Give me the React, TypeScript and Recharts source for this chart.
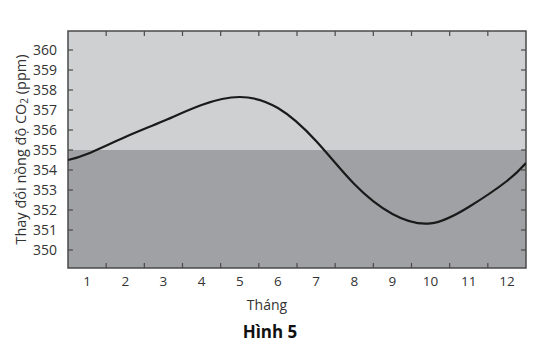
import { LineChart, Line, XAxis, YAxis, CartesianGrid, ReferenceArea, ReferenceLine } from "recharts";

// month positions (0.5 and 12.5 are the plot edges) and CO2 readings
const months = [0.5, 1, 2, 3, 4, 5, 6, 7, 8, 9, 10, 11, 12, 12.5];
const co2 = [354.5, 354.8, 355.65, 356.45, 357.25, 357.65, 357.1, 355.45, 353.3, 351.8, 351.33, 352.15, 353.45, 354.35];

const monthTicks = [1, 2, 3, 4, 5, 6, 7, 8, 9, 10, 11, 12];
const monthEdges = [1.5, 2.5, 3.5, 4.5, 5.5, 6.5, 7.5, 8.5, 9.5, 10.5, 11.5];
const ppmTicks = [350, 351, 352, 353, 354, 355, 356, 357, 358, 359, 360];
const threshold = 355;
const xDomain = [0.5, 12.5];
const yDomain = [349.1, 360.95];

const data = months.map((m, i) => ({ month: m, co2: co2[i] }));

const FONT = "'Open Sans', 'DejaVu Sans', sans-serif";
const INK = "#4a4a4a";
// inward tick length, in axis units (~5px)
const TX = 0.13;
const TY = 0.25;

function YTitle({ viewBox }: any) {
  const cx = 20;
  const cy = viewBox ? viewBox.y + viewBox.height / 2 : 150;
  return (
    <text
      x={cx}
      y={cy}
      transform={`rotate(-90 ${cx} ${cy})`}
      textAnchor="middle"
      dominantBaseline="central"
      fontFamily={FONT}
      fontSize={14.5}
      fill="#333"
    >
      <tspan>Thay đổi nồng độ CO</tspan>
      <tspan fontSize={10} dy={4}>2</tspan>
      <tspan dy={-4}> (ppm)</tspan>
    </text>
  );
}

export default function App() {
  const tickProps = { xAxisId: "m", yAxisId: "v", stroke: INK, strokeWidth: 1.2, ifOverflow: "visible" as const };
  return (
    <div style={{ position: "absolute", left: 0, top: 0, width: 544, height: 349, background: "#fff" }}>
      <LineChart
        width={544}
        height={349}
        data={data}
        margin={{ top: 31, right: 18, bottom: 51, left: 0 }}
      >
        <CartesianGrid
          xAxisId="m"
          yAxisId="v"
          vertical={false}
          horizontalValues={[yDomain[1], threshold]}
          horizontalFill={["#cfd0d2", "#a0a1a4"]}
          fillOpacity={1}
          stroke="none"
        />
        <XAxis
          xAxisId="m"
          dataKey="month"
          type="number"
          domain={xDomain}
          ticks={monthTicks}
          interval={0}
          height={30}
          tickLine={false}
          axisLine={false}
          tickSize={0}
          tickMargin={8}
          tick={{ fontSize: 13.5, fill: "#333", fontFamily: FONT }}
          allowDataOverflow
        />
        <YAxis
          yAxisId="v"
          type="number"
          domain={yDomain}
          ticks={ppmTicks}
          interval={0}
          width={68}
          tickLine={false}
          axisLine={false}
          tickSize={0}
          tickMargin={11}
          tick={{ fontSize: 14, fill: "#333", fontFamily: FONT }}
          allowDataOverflow
          label={<YTitle />}
        />
        {monthEdges.map((b) => (
          <ReferenceLine key={`b${b}`} {...tickProps} segment={[{ x: b, y: yDomain[0] }, { x: b, y: yDomain[0] + TY }]} />
        ))}
        {monthEdges.map((b) => (
          <ReferenceLine key={`t${b}`} {...tickProps} segment={[{ x: b, y: yDomain[1] }, { x: b, y: yDomain[1] - TY }]} />
        ))}
        {ppmTicks.map((v) => (
          <ReferenceLine key={`l${v}`} {...tickProps} segment={[{ x: xDomain[0], y: v }, { x: xDomain[0] + TX, y: v }]} />
        ))}
        {ppmTicks.map((v) => (
          <ReferenceLine key={`r${v}`} {...tickProps} segment={[{ x: xDomain[1], y: v }, { x: xDomain[1] - TX, y: v }]} />
        ))}
        <ReferenceArea
          xAxisId="m"
          yAxisId="v"
          x1={xDomain[0]}
          x2={xDomain[1]}
          y1={yDomain[0]}
          y2={yDomain[1]}
          fill="none"
          stroke={INK}
          strokeWidth={1.5}
          ifOverflow="visible"
        />
        <Line
          xAxisId="m"
          yAxisId="v"
          dataKey="co2"
          type="natural"
          stroke="#1a1a1a"
          strokeWidth={2.2}
          dot={false}
          activeDot={false}
          isAnimationActive={false}
        />
      </LineChart>
      <div
        style={{
          position: "absolute",
          left: 217,
          width: 100,
          top: 295,
          textAlign: "center",
          fontFamily: FONT,
          fontSize: 14,
          color: "#333",
          lineHeight: "20px",
        }}
      >
        Tháng
      </div>
      <div
        style={{
          position: "absolute",
          left: 210,
          width: 120,
          top: 320,
          textAlign: "center",
          fontFamily: FONT,
          fontSize: 17,
          fontWeight: 700,
          color: "#111",
          lineHeight: "24px",
        }}
      >
        Hình 5
      </div>
    </div>
  );
}
